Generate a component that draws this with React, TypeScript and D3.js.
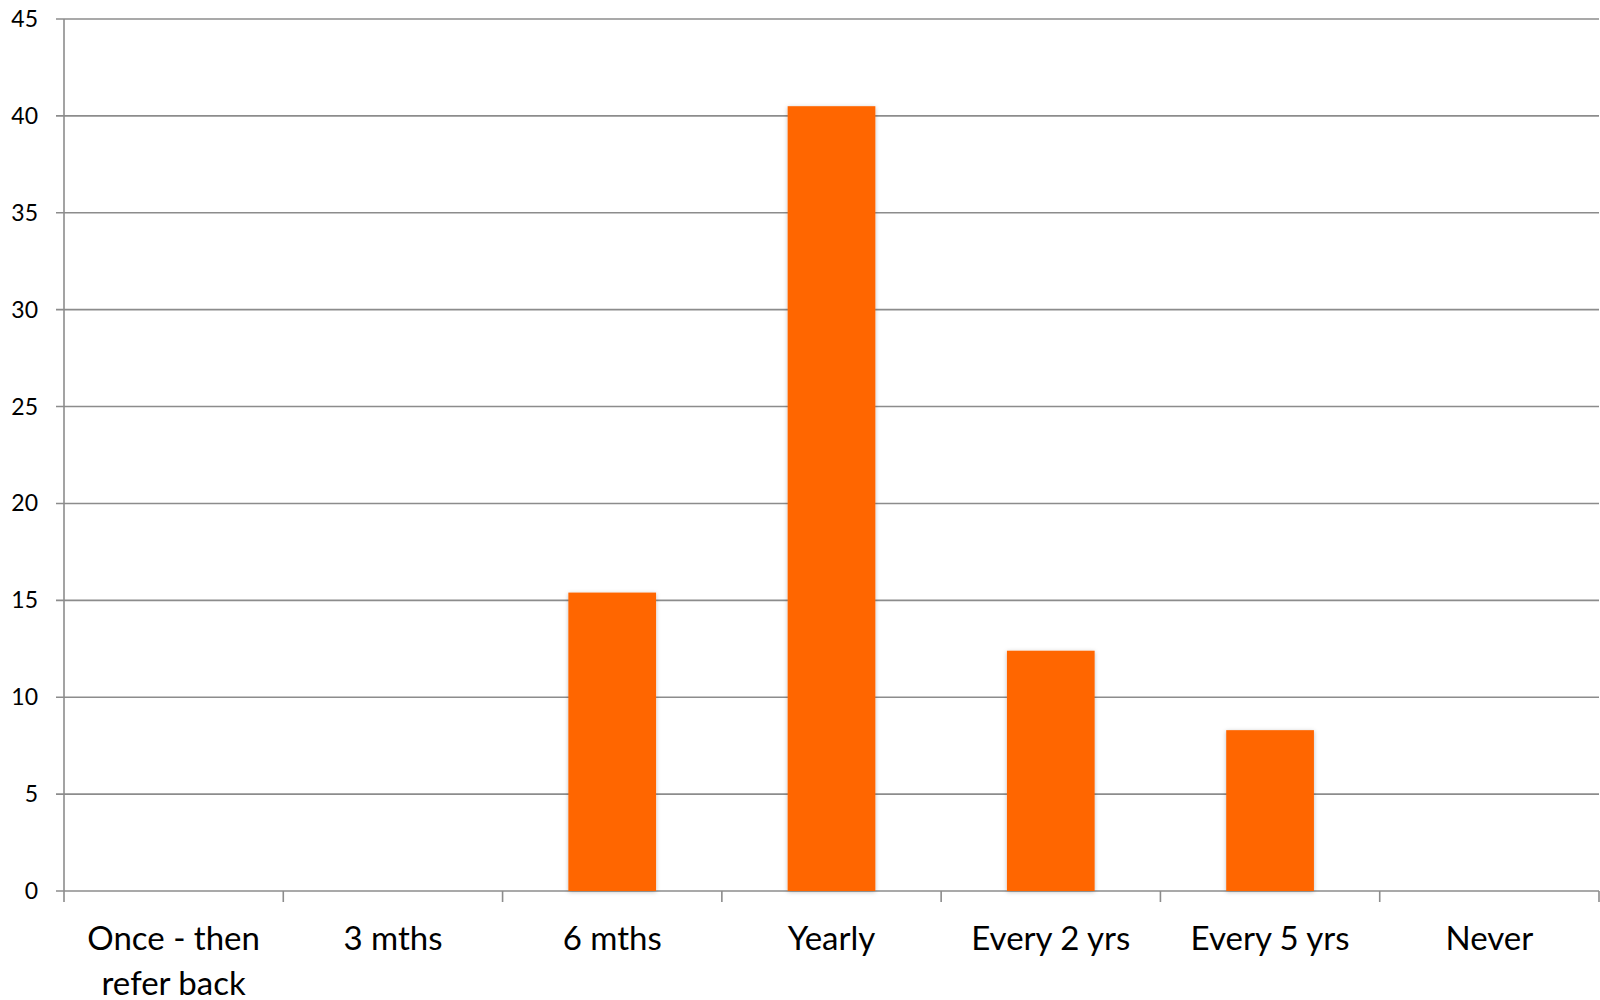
import { useEffect, useRef } from 'react'
import * as d3 from 'd3'

const CATEGORIES = ['Once - then\nrefer back', '3 mths', '6 mths', 'Yearly', 'Every 2 yrs', 'Every 5 yrs', 'Never']
const VALUES = [0, 0, 15.4, 40.5, 12.4, 8.3, 0]
const Y_TICKS = [0, 5, 10, 15, 20, 25, 30, 35, 40, 45]

const W = 1600
const H = 1000
const M = { top: 19, right: 1, bottom: 109, left: 64 }
const BAR = '#FF6600'
const GRID = '#8c8c8c'
const FONT = 'Lato, "Open Sans", sans-serif'

export default function App() {
  const ref = useRef<SVGSVGElement>(null)

  useEffect(() => {
    if (!ref.current) return
    const svg = d3.select(ref.current)
    svg.selectAll('*').remove()

    const x = d3.scaleBand<string>().domain(CATEGORIES).range([M.left, W - M.right]).paddingInner(0.6).paddingOuter(0.3)
    const xb = d3.scaleBand<string>().domain(CATEGORIES).range([M.left, W - M.right])
    const y = d3.scaleLinear().domain([0, 45]).range([H - M.bottom, M.top])

    const defs = svg.append('defs')
    const f = defs.append('filter').attr('id', 'shadow').attr('x', '-10%').attr('y', '-10%').attr('width', '120%').attr('height', '120%')
    f.append('feDropShadow').attr('dx', 0).attr('dy', 1).attr('stdDeviation', 2).attr('flood-color', '#000').attr('flood-opacity', 0.25)

    // gridlines + y labels
    const gy = svg.append('g')
    gy.selectAll('line').data(Y_TICKS).join('line')
      .attr('x1', M.left - 8).attr('x2', W - M.right)
      .attr('y1', (d) => y(d)).attr('y2', (d) => y(d))
      .attr('stroke', GRID).attr('stroke-width', 1.6)
    gy.selectAll('text').data(Y_TICKS).join('text')
      .attr('x', 38).attr('y', (d) => y(d)).attr('dy', '0.35em')
      .attr('text-anchor', 'end').attr('font-family', FONT).attr('font-size', 23).attr('fill', '#000')
      .text((d) => d)

    // y axis line
    svg.append('line').attr('x1', M.left).attr('x2', M.left).attr('y1', y(45)).attr('y2', y(0) + 11)
      .attr('stroke', GRID).attr('stroke-width', 1.6)

    // x ticks at band boundaries
    const bounds = CATEGORIES.map((c) => xb(c)!).concat([xb(CATEGORIES[CATEGORIES.length - 1])! + xb.bandwidth()])
    svg.append('g').selectAll('line').data(bounds.slice(1)).join('line')
      .attr('x1', (d) => Math.min(d, W - 1)).attr('x2', (d) => Math.min(d, W - 1))
      .attr('y1', y(0)).attr('y2', y(0) + 11)
      .attr('stroke', GRID).attr('stroke-width', 1.6)

    // bars
    svg.append('g').selectAll('rect').data(CATEGORIES.map((c, i) => ({ c, v: VALUES[i] })).filter((d) => d.v > 0)).join('rect')
      .attr('x', (d) => x(d.c)!).attr('width', x.bandwidth())
      .attr('y', (d) => y(d.v)).attr('height', (d) => y(0) - y(d.v))
      .attr('fill', BAR).attr('filter', 'url(#shadow)')

    // category labels
    const lab = svg.append('g').selectAll('text').data(CATEGORIES).join('text')
      .attr('x', (d) => xb(d)! + xb.bandwidth() / 2).attr('y', 950)
      .attr('text-anchor', 'middle').attr('font-family', FONT).attr('font-size', 33).attr('fill', '#000')
    lab.each(function (d) {
      const t = d3.select(this)
      d.split('\n').forEach((line, i) => {
        t.append('tspan').attr('x', xb(d)! + xb.bandwidth() / 2).attr('dy', i === 0 ? 0 : 45).text(line)
      })
    })
  }, [])

  return (
    <svg ref={ref} width={W} height={H}
      style={{ position: 'absolute', left: 0, top: 0, background: '#fff', display: 'block' }} />
  )
}
